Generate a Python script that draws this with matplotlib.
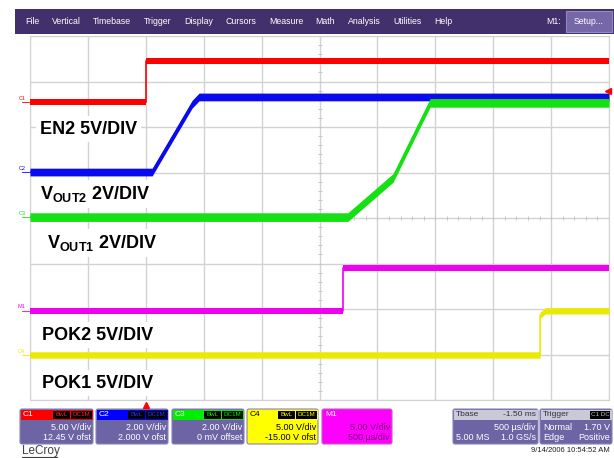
import numpy as np
import matplotlib
matplotlib.use('Agg')
import matplotlib.pyplot as plt
from matplotlib.patches import Rectangle, FancyBboxPatch

plt.rcParams['font.family'] = ['Liberation Sans', 'DejaVu Sans']
plt.rcParams['mathtext.fontset'] = 'custom'
plt.rcParams['mathtext.rm'] = 'Liberation Sans'
plt.rcParams['mathtext.bf'] = 'Liberation Sans:bold'

# trace vertices in screen divisions (x: 10 div @ 500 us/div, y: 8 div)
en2_t = [0, 2.0, 2.0, 10]
en2_v = [6.55, 6.55, 7.45, 7.45]
vout2_t = [0, 2.11, 2.80, 2.92, 10]
vout2_v = [5.01, 5.01, 6.50, 6.66, 6.66]
vout1_t = [0, 5.49, 6.27, 6.91, 10]
vout1_v = [4.02, 4.02, 4.88, 6.53, 6.53]
pok2_t = [0, 5.41, 5.41, 10]
pok2_v = [1.96, 1.96, 2.90, 2.90]
pok1_t = [0, 8.81, 8.81, 8.90, 10]
pok1_v = [0.99, 0.99, 1.86, 1.96, 1.96]

menu_items = ['File', 'Vertical', 'Timebase', 'Trigger', 'Display', 'Cursors',
              'Measure', 'Math', 'Analysis', 'Utilities', 'Help']

W, H = 614, 458
X0, X1, Y0, Y1 = 30, 609, 36, 400   # graticule, pixels from top-left

fig = plt.figure(figsize=(W / 100, H / 100), dpi=100)
fig.patch.set_facecolor('white')

ax = fig.add_axes([X0 / W, 1 - Y1 / H, (X1 - X0) / W, (Y1 - Y0) / H])
ax.set_xlim(0, 10)
ax.set_ylim(0, 8)
gc = '#d2d2d2'
ax.set_xticks(range(11))
ax.set_yticks(range(9))
ax.tick_params(length=0, labelbottom=False, labelleft=False)
ax.grid(color=gc, lw=1)
for s in ax.spines.values():
    s.set_color(gc)
# small ticks along the centre cross
cx = np.arange(0, 10.01, 0.2)
cy = np.arange(0, 8.01, 0.2)
ax.plot(cx, np.full_like(cx, 4), ls='none', marker='|', ms=3.5, color='#c4c4c4', mew=0.7)
ax.plot(np.full_like(cy, 5), cy, ls='none', marker='_', ms=3.5, color='#c4c4c4', mew=0.7)

traces = [
    (en2_t, en2_v, '#ff0000', 0.075, 'C1'),
    (vout2_t, vout2_v, '#0a0af0', 0.085, 'C2'),
    (vout1_t, vout1_v, '#14e014', 0.095, 'C3'),
    (pok2_t, pok2_v, '#f000f0', 0.07, 'M1'),
    (pok1_t, pok1_v, '#eaea00', 0.07, 'C4'),
]
for t, v, c, hw, tag in traces:
    t = np.array(t, float)
    v = np.array(v, float)
    ax.fill_between(t, v - hw, v + hw, color=c, lw=0, zorder=3)
    ax.plot(t, v, color=c, lw=1.2, zorder=3)
    ax.text(-0.08, v[0] + 0.03, tag, color=c, fontsize=4, ha='right', va='bottom',
            clip_on=False)
    ax.plot([-0.14, -0.02], [v[0], v[0]], color=c, lw=0.6, clip_on=False)

ov = fig.add_axes([0, 0, 1, 1], zorder=5)
ov.set_xlim(0, W)
ov.set_ylim(H, 0)
ov.axis('off')

# menu bar, items spread evenly between x=25 and x=452
ov.add_patch(Rectangle((15, 9), W - 15, 25, fc='#41306b', ec='none'))
renderer = fig.canvas.get_renderer()
items = [ov.text(0, 21.5, name, color='white', fontsize=6.3, va='center')
         for name in menu_items]
widths = [it.get_window_extent(renderer).width for it in items]
gap = (452 - 25 - sum(widths)) / (len(items) - 1)
x = 25
for it, w in zip(items, widths):
    it.set_x(x)
    x += w + gap
ov.text(546, 21.5, 'M1:', color='white', fontsize=6.3, va='center')
ov.add_patch(Rectangle((566, 11), 46, 21, fc='#7667a8', ec='#9488c0', lw=0.8))
ov.text(589, 21.5, 'Setup...', color='white', fontsize=6.3, va='center', ha='center')

# channel labels
lab = dict(fontsize=13, weight='bold', va='center', color='black',
           bbox=dict(fc='white', ec='none', pad=3))
ov.text(40, 129, 'EN2 5V/DIV', **lab)
ov.text(40, 194, r'$\mathbf{V_{OUT2}}$ 2V/DIV', **lab)
ov.text(47, 243, r'$\mathbf{V_{OUT1}}$ 2V/DIV', **lab)
ov.text(42, 335, 'POK2 5V/DIV', **lab)
ov.text(42, 383, 'POK1 5V/DIV', **lab)

# trigger markers
ov.plot(146, 405, marker='^', color='red', ms=4)
ov.plot(608, 91, marker='<', color='red', ms=4)

# status boxes
BODY = '#6c64a4'
BY, BH, HH = 409, 35, 10


def chan_box(x, w, name, hcol, body, txt_col, l1, l2, badge_txt_col, name_col='white'):
    ov.add_patch(FancyBboxPatch((x, BY), w, BH, boxstyle='round,pad=0,rounding_size=2',
                                fc=body, ec='#8a84b8', lw=0.8))
    ov.add_patch(Rectangle((x + 0.5, BY + 0.5), w - 1, HH, fc=hcol, ec='none'))
    ov.text(x + 3, BY + 5.5, name, color=name_col, fontsize=6, va='center')
    for bx, bw, bt in [(x + w - 40, 17, 'BwL'), (x + w - 22, 21, 'DC1M')]:
        ov.add_patch(Rectangle((bx, BY + 1.5), bw, HH - 2, fc='black', ec='none'))
        ov.text(bx + bw / 2, BY + 5.5, bt, color=badge_txt_col, fontsize=4.5,
                ha='center', va='center')
    ov.text(x + w - 2, BY + 18.5, l1, color=txt_col, fontsize=6.5, ha='right', va='center')
    ov.text(x + w - 2, BY + 28.5, l2, color=txt_col, fontsize=6.5, ha='right', va='center')


chan_box(20, 73, 'C1', '#ff0000', BODY, 'white', '5.00 V/div', '12.45 V ofst', '#ff2020')
chan_box(96, 72, 'C2', '#0000ff', BODY, 'white', '2.00 V/div', '2.000 V ofst', '#3030ff')
chan_box(172, 72, 'C3', '#00ee00', BODY, 'white', '2.00 V/div', '0 mV offset', '#00ee00')
chan_box(247, 71, 'C4', '#ffff00', '#ffff00', 'black', '5.00 V/div', '-15.00 V ofst',
         '#ffff00', name_col='black')

# math box
ov.add_patch(FancyBboxPatch((322, BY), 70, BH, boxstyle='round,pad=0,rounding_size=2',
                            fc='#ff00ff', ec='#c060c0', lw=0.8))
ov.text(325, BY + 5.5, 'M1', color='white', fontsize=6, va='center')
ov.text(390, BY + 18.5, '5.00 V/div', color='#700070', fontsize=6.5, ha='right', va='center')
ov.text(390, BY + 28.5, '500 µs/div', color='#700070', fontsize=6.5, ha='right', va='center')

# timebase / trigger boxes
for x, w in [(453, 85), (540, 72)]:
    ov.add_patch(FancyBboxPatch((x, BY), w, BH, boxstyle='round,pad=0,rounding_size=2',
                                fc=BODY, ec='#8a84b8', lw=0.8))
    ov.add_patch(Rectangle((x + 0.5, BY + 0.5), w - 1, HH, fc='#c9c9da', ec='none'))
ov.text(456, BY + 5.5, 'Tbase', color='#303040', fontsize=6, va='center')
ov.text(536, BY + 5.5, '-1.50 ms', color='#303040', fontsize=6, va='center', ha='right')
ov.text(536, BY + 18.5, '500 µs/div', color='white', fontsize=6.5, va='center', ha='right')
ov.text(456, BY + 28.5, '5.00 MS', color='white', fontsize=6.5, va='center')
ov.text(536, BY + 28.5, '1.0 GS/s', color='white', fontsize=6.5, va='center', ha='right')
ov.text(543, BY + 5.5, 'Trigger', color='#303040', fontsize=6, va='center')
ov.add_patch(Rectangle((590, BY + 1.5), 20, HH - 2, fc='black', ec='none'))
ov.text(600, BY + 5.5, 'C1 DC', color='#c0c0c0', fontsize=4.5, ha='center', va='center')
ov.text(543, BY + 18.5, 'Normal', color='white', fontsize=6.5, va='center')
ov.text(610, BY + 18.5, '1.70 V', color='white', fontsize=6.5, va='center', ha='right')
ov.text(543, BY + 28.5, 'Edge', color='white', fontsize=6.5, va='center')
ov.text(610, BY + 28.5, 'Positive', color='white', fontsize=6.5, va='center', ha='right')

ov.text(22, 451, 'LeCroy', color='#404040', fontsize=8.5, va='center')
ov.plot([22, 57], [457, 457], color='#404040', lw=0.8)
ov.text(610, 451, '9/14/2006 10:54:52 AM', color='#202020', fontsize=5.5,
        va='center', ha='right')

fig.savefig('out.png', dpi=100)
